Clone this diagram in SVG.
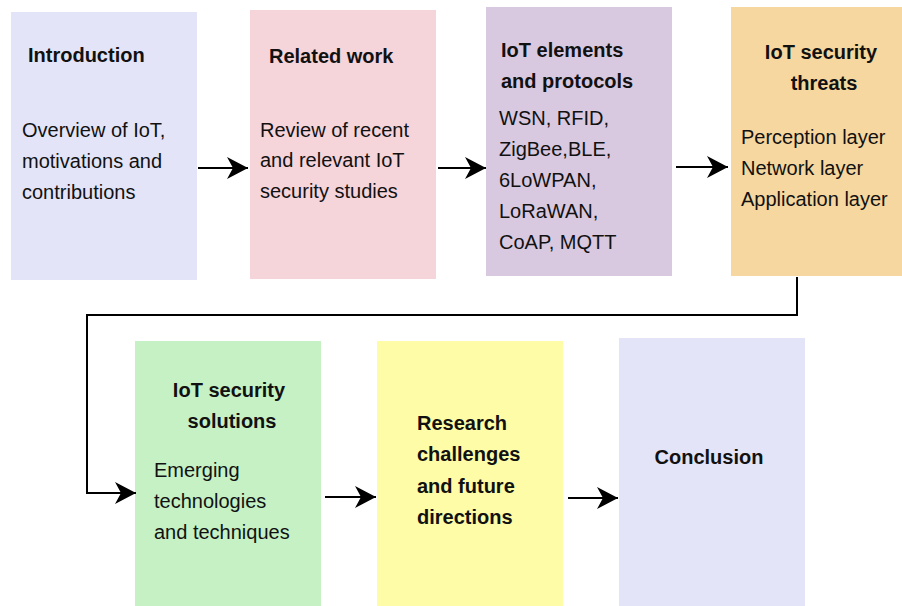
<svg xmlns="http://www.w3.org/2000/svg" width="902" height="606" viewBox="0 0 902 606">
<style>
text{font-family:"Liberation Sans",Arial,sans-serif;font-size:20px;fill:#111}
.b{font-weight:bold}
.m{text-anchor:middle}
.c{fill:none;stroke:#000;stroke-width:2}
</style>
<defs>
<marker id="ah" markerUnits="userSpaceOnUse" markerWidth="24" markerHeight="24" viewBox="-22 -12 24 24" refX="0" refY="0" orient="auto">
<path d="M-21,-11 L0,0 L-21,11 L-15,0 Z" fill="#000"/>
</marker>
</defs>
<rect width="902" height="606" fill="#fff"/>
<g id="intro">
<rect x="11" y="12" width="186" height="268" fill="#E4E4F8"/>
<text class="b" x="28" y="62">Introduction</text>
<text x="22" y="137">Overview of IoT,</text>
<text x="22" y="168">motivations and</text>
<text x="22" y="199">contributions</text>
</g>
<g id="related">
<rect x="250" y="10" width="186" height="269" fill="#F5D4DA"/>
<text class="b" x="269" y="63">Related work</text>
<text x="260" y="137">Review of recent</text>
<text x="260" y="167">and relevant IoT</text>
<text x="260" y="198">security studies</text>
</g>
<g id="elements">
<rect x="486" y="7" width="186" height="269" fill="#D9C9E0"/>
<text class="b" x="501" y="57">IoT elements</text>
<text class="b" x="501" y="88">and protocols</text>
<text x="499" y="125">WSN, RFID,</text>
<text x="499" y="156">ZigBee,BLE,</text>
<text x="499" y="187">6LoWPAN,</text>
<text x="499" y="218">LoRaWAN,</text>
<text x="499" y="249">CoAP, MQTT</text>
</g>
<g id="threats">
<rect x="731" y="7" width="171" height="269" fill="#F6D79F"/>
<text class="b m" x="821" y="59">IoT security</text>
<text class="b m" x="824" y="90">threats</text>
<text x="741" y="144">Perception layer</text>
<text x="741" y="175">Network layer</text>
<text x="741" y="206">Application layer</text>
</g>
<g id="solutions">
<rect x="135" y="341" width="186" height="265" fill="#C5F1C5"/>
<text class="b m" x="229" y="397">IoT security</text>
<text class="b m" x="232" y="428">solutions</text>
<text x="154" y="477">Emerging</text>
<text x="154" y="508">technologies</text>
<text x="154" y="539">and techniques</text>
</g>
<g id="research">
<rect x="377" y="341" width="186" height="265" fill="#FEFCA6"/>
<text class="b" x="417" y="430">Research</text>
<text class="b" x="417" y="461">challenges</text>
<text class="b" x="417" y="493">and future</text>
<text class="b" x="417" y="524">directions</text>
</g>
<g id="conclusion">
<rect x="619" y="338" width="186" height="268" fill="#E4E4F8"/>
<text class="b m" x="709" y="464">Conclusion</text>
</g>
<g id="connectors">
<path class="c" d="M198,168 H248" marker-end="url(#ah)"/>
<path class="c" d="M438,168 H486" marker-end="url(#ah)"/>
<path class="c" d="M676,167 H728" marker-end="url(#ah)"/>
<path class="c" d="M797,277 V315 H87 V493 H136" marker-end="url(#ah)"/>
<path class="c" d="M325,497 H376" marker-end="url(#ah)"/>
<path class="c" d="M568,498 H618" marker-end="url(#ah)"/>
</g>
</svg>
